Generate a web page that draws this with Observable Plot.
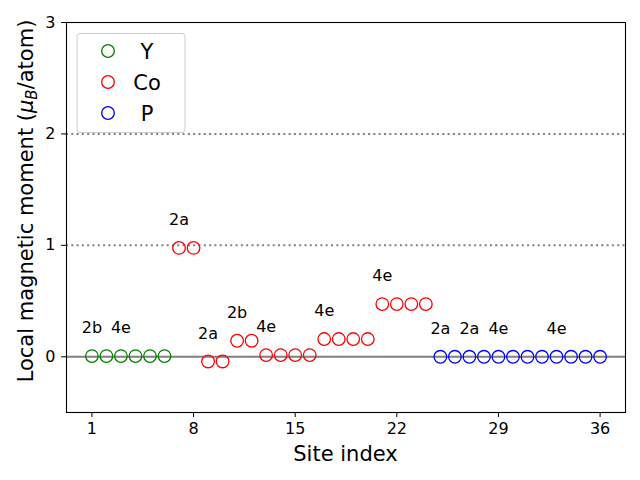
<!DOCTYPE html>
<html><head><meta charset="utf-8">
<script src="https://cdn.jsdelivr.net/npm/d3@7"></script>
<script src="https://cdn.jsdelivr.net/npm/@observablehq/plot@0.6"></script>
<style>
body{margin:0;background:#fff;font-family:"DejaVu Sans",sans-serif;}
#wrap{position:relative;width:640px;height:480px;}
</style></head><body><div id="wrap"></div>
<script>
const elements = ["Y", "Co", "P"];
const colors = ["green", "red", "blue"];
const ySites = [1, 2, 3, 4, 5, 6];
const yMoments = [0.006, 0.006, 0.006, 0.006, 0.006, 0.006];
const coSites = [7, 8, 9, 10, 11, 12, 13, 14, 15, 16, 17, 18, 19, 20, 21, 22, 23, 24];
const coMoments = [0.977, 0.977, -0.042, -0.042, 0.144, 0.144, 0.015, 0.015, 0.015, 0.015, 0.159, 0.159, 0.159, 0.159, 0.473, 0.473, 0.473, 0.473];
const pSites = [25, 26, 27, 28, 29, 30, 31, 32, 33, 34, 35, 36];
const pMoments = [0, 0, 0, 0, 0, 0, 0, 0, 0, 0, 0, 0];
const labelSites = [1, 3, 7, 9, 11, 13, 17, 21, 25, 27, 29, 33];
const labelTexts = ["2b", "4e", "2a", "2a", "2b", "4e", "4e", "4e", "2a", "2a", "4e", "4e"];
const labelOffset = 0.25;
const xTicks = [1, 8, 15, 22, 29, 36];
const yTicks = [0, 1, 2, 3];
const refLevels = [1, 2];

const data = [
  ...ySites.map((s, i) => ({site: s, m: yMoments[i], el: "Y"})),
  ...coSites.map((s, i) => ({site: s, m: coMoments[i], el: "Co"})),
  ...pSites.map((s, i) => ({site: s, m: pMoments[i], el: "P"}))
];
const momentAt = new Map(data.map(d => [d.site, d.m]));
const labels = labelSites.map((s, i) => ({site: s, t: labelTexts[i], ly: momentAt.get(s) + labelOffset}));

const plot = Plot.plot({
  width: 640, height: 480,
  marginLeft: 66, marginRight: 15, marginTop: 22, marginBottom: 68,
  style: {fontFamily: "DejaVu Sans", fontSize: "16px", background: "white", color: "black"},
  x: {domain: [-0.75, 37.75], ticks: xTicks, tickSize: 5, tickPadding: 5, label: null, tickFormat: d => String(d)},
  y: {domain: [-0.5, 3], ticks: yTicks, tickSize: 5, tickPadding: 6, label: null, tickFormat: d => String(d)},
  color: {domain: elements, range: colors},
  marks: [
    Plot.ruleY(refLevels, {stroke: "gray", strokeWidth: 2, strokeDasharray: "2,3.3"}),
    Plot.ruleY([0], {stroke: "gray", strokeWidth: 2}),
    Plot.dot(data, {x: "site", y: "m", stroke: "el", r: 6.3, strokeWidth: 1.3, fill: "none"}),
    Plot.text(labels, {x: "site", y: "ly", text: "t", fontSize: 16, fill: "black"}),
    Plot.frame({stroke: "black", strokeWidth: 1.1})
  ]
});
document.getElementById("wrap").appendChild(plot);

const svg = d3.select(plot);
// x label
svg.append("text").attr("x", 345.5).attr("y", 461).attr("text-anchor", "middle")
  .attr("font-size", 21).attr("font-family", "DejaVu Sans").attr("fill", "black").text("Site index");
// y label
const yl = svg.append("text").attr("transform", "translate(33,201) rotate(-90)")
  .attr("text-anchor", "middle").attr("font-size", 21).attr("font-family", "DejaVu Sans").attr("fill", "black");
yl.append("tspan").text("Local magnetic moment (");
yl.append("tspan").attr("font-style", "italic").text("μ");
yl.append("tspan").attr("font-style", "italic").attr("font-size", 15).attr("dy", 4).text("B");
yl.append("tspan").attr("dy", -4).text("/atom)");
// legend
const lg = svg.append("g");
lg.append("rect").attr("x", 77).attr("y", 33.5).attr("width", 108).attr("height", 99).attr("rx", 3)
  .attr("fill", "rgba(255,255,255,0.8)").attr("stroke", "#cccccc").attr("stroke-width", 1);
elements.forEach((e, i) => {
  const cy = 51 + i * 31;
  lg.append("circle").attr("cx", 108).attr("cy", cy).attr("r", 6.3).attr("fill", "none")
    .attr("stroke", colors[i]).attr("stroke-width", 1.3);
  lg.append("text").attr("x", 147).attr("y", cy + 7.5).attr("font-size", 21)
    .attr("font-family", "DejaVu Sans").attr("fill", "black").text(e);
});
</script></body></html>
